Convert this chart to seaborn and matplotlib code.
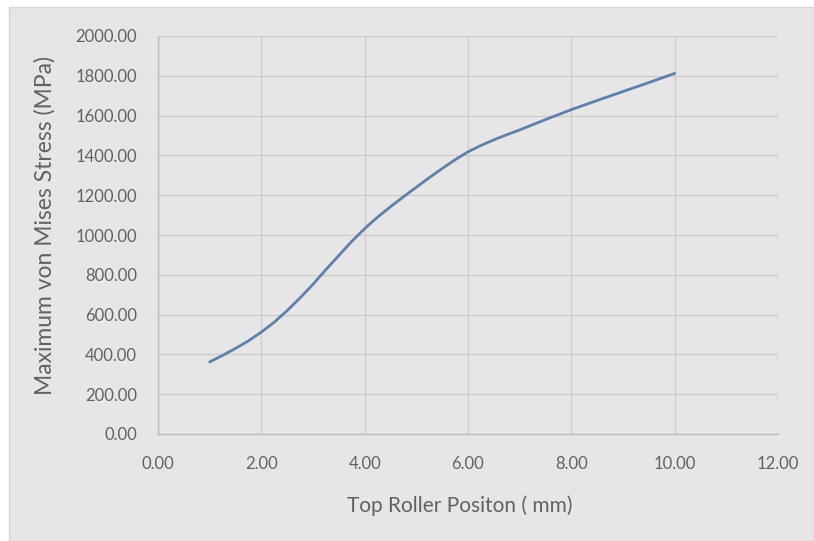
import matplotlib
matplotlib.use("Agg")
import matplotlib.pyplot as plt
from matplotlib.patches import Rectangle
from matplotlib.ticker import FormatStrFormatter
import seaborn as sns
import pandas as pd

# Values
roller_position = [1.0, 1.25, 1.5, 1.75, 2.0, 2.25, 2.5, 2.75, 3.0, 3.25, 3.5,
                   3.75, 4.0, 4.25, 4.5, 4.75, 5.0, 5.25, 5.5, 5.75, 6.0,
                   6.25, 6.5, 6.75, 7.0, 7.5, 8.0, 8.5, 9.0, 9.5, 10.0]
max_stress = [362, 395, 430, 468, 512, 562, 620, 684, 752, 826, 897,
              968, 1032, 1090, 1142, 1192, 1240, 1288, 1334, 1378, 1418,
              1450, 1478, 1504, 1528, 1580, 1630, 1676, 1721, 1766, 1812]
x_ticks = [0, 2, 4, 6, 8, 10, 12]
y_ticks = [0, 200, 400, 600, 800, 1000, 1200, 1400, 1600, 1800, 2000]
x_title = "Top Roller Positon ( mm)"
y_title = "Maximum von Mises Stress (MPa)"

df = pd.DataFrame({"pos": roller_position, "stress": max_stress})

sns.set_theme(style="white")
plt.rcParams["font.family"] = ["Lato", "DejaVu Sans"]

BG = "#e6e6e6"
TXT = "#626262"
GRID = "#cdcdcd"

fig = plt.figure(figsize=(8.14, 5.41), dpi=100, facecolor="white")
fig.patches.append(Rectangle((9 / 814, 0), 1 - 9 / 814, 1 - 7 / 541,
                             transform=fig.transFigure, facecolor=BG,
                             edgecolor="#d6d6d6", linewidth=1.0, zorder=-10))
ax = fig.add_axes([158 / 814, 1 - 434 / 541, (778 - 158) / 814, (434 - 36) / 541])
ax.set_zorder(1)
ax.set_facecolor(BG)

sns.lineplot(data=df, x="pos", y="stress", ax=ax, color="#5f80ad",
             linewidth=2.0, solid_capstyle="round", solid_joinstyle="round",
             zorder=3)

ax.set_xlim(0, 12)
ax.set_ylim(0, 2000)
ax.set_xticks(x_ticks)
ax.set_yticks(y_ticks)
ax.xaxis.set_major_formatter(FormatStrFormatter("%.2f"))
ax.yaxis.set_major_formatter(FormatStrFormatter("%.2f"))
ax.grid(True, color=GRID, linewidth=1.0)
ax.set_axisbelow(True)
for side in ["top", "right"]:
    ax.spines[side].set_visible(False)
for side in ["left", "bottom"]:
    ax.spines[side].set_color("#bcbcbc")
    ax.spines[side].set_linewidth(1.0)
ax.tick_params(axis="both", length=0, labelsize=12, labelcolor=TXT)
ax.tick_params(axis="y", pad=15)
ax.tick_params(axis="x", pad=16)

ax.set_xlabel(x_title, fontsize=15, color=TXT)
ax.set_ylabel(y_title, fontsize=16.5, color=TXT)
ax.xaxis.set_label_coords(0.487, -0.155)
ax.yaxis.set_label_coords(-0.166, 0.525)

fig.savefig("out.png", dpi=100, facecolor=fig.get_facecolor())
